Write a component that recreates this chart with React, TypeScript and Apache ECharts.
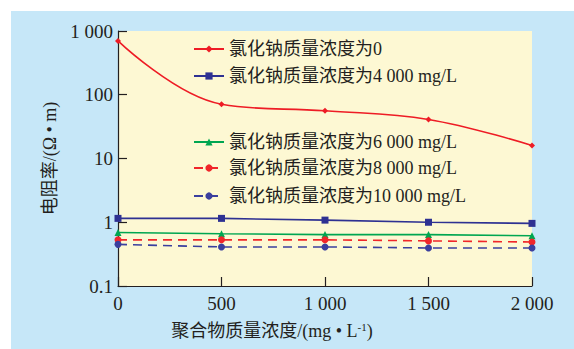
import React, { useEffect, useRef } from "react";
import * as echarts from "echarts";

const xValues = [0, 500, 1000, 1500, 2000];
const seriesNames = [
  "氯化钠质量浓度为0",
  "氯化钠质量浓度为4 000 mg/L",
  "氯化钠质量浓度为6 000 mg/L",
  "氯化钠质量浓度为8 000 mg/L",
  "氯化钠质量浓度为10 000 mg/L",
];
const nacl0 = [700, 71, 56, 41, 16];
const nacl4000 = [1.15, 1.15, 1.08, 1.0, 0.96];
const nacl6000 = [0.69, 0.66, 0.64, 0.64, 0.615];
const nacl8000 = [0.53, 0.53, 0.53, 0.51, 0.49];
const nacl10000 = [0.45, 0.41, 0.41, 0.395, 0.395];
const xTickLabels: Record<number, string> = { 0: "0", 500: "500", 1000: "1 000", 1500: "1 500", 2000: "2 000" };
const yTickLabels: Record<string, string> = { "0.1": "0.1", "1": "1", "10": "10", "100": "100", "1000": "1 000" };

const FONT = "'Liberation Serif', 'Noto Sans CJK SC', serif";
const INK = "#231f20";

export default function App() {
  const ref = useRef<HTMLDivElement>(null);
  useEffect(() => {
    if (!ref.current) return;
    const chart = echarts.init(ref.current, null, { renderer: "svg" });
    const values = [nacl0, nacl4000, nacl6000, nacl8000, nacl10000];
    const colors = ["#ee1c25", "#2e3192", "#00a651", "#f0262a", "#3a3f9e"];
    const symbols = ["diamond", "rect", "triangle", "circle", "circle"];
    const symbolSizes = [6, 7, 7, 7, 7];
    const dashed = [false, false, false, true, true];
    const legendCenters = [50, 77, 143, 169, 197];

    const series = values.map((vals, i) => ({
      name: seriesNames[i],
      type: "line",
      data: xValues.map((x, j) => [x, vals[j]]),
      smooth: i === 0 ? 0.4 : false,
      symbol: symbols[i],
      symbolSize: symbolSizes[i],
      showSymbol: true,
      color: colors[i],
      lineStyle: { color: colors[i], width: 1.6, type: dashed[i] ? [9, 6] : "solid" },
      itemStyle: { color: colors[i] },
    }));

    const legends = seriesNames.map((name, i) => ({
      data: [name],
      left: 193,
      top: legendCenters[i] - 10,
      padding: 0,
      itemWidth: 30,
      itemHeight: 9,
      textStyle: { fontFamily: FONT, fontSize: 18, color: INK },
      selectedMode: false,
    }));

    chart.setOption({
      animation: false,
      backgroundColor: "transparent",
      grid: {
        left: 118,
        top: 31,
        right: 42,
        bottom: 63,
        show: true,
        backgroundColor: "#fdf8d3",
        borderWidth: 0,
      },
      legend: legends,
      xAxis: {
        type: "value",
        min: 0,
        max: 2000,
        interval: 500,
        name: "聚合物质量浓度/(mg • L{sup|-1})",
        nameLocation: "middle",
        nameGap: 35,
        nameTextStyle: {
          fontFamily: FONT,
          fontSize: 18,
          color: INK,
          padding: [0, 106, 0, 0],
          rich: {
            sup: { fontFamily: FONT, fontSize: 11, color: INK, verticalAlign: "top", padding: [0, 0, 8, 0] },
          },
        },
        axisLine: { show: true, lineStyle: { color: INK, width: 1.2 } },
        axisTick: { show: true, inside: true, length: 9, lineStyle: { color: INK, width: 1.2 } },
        splitLine: { show: false },
        axisLabel: {
          fontFamily: FONT,
          fontSize: 19,
          color: INK,
          margin: 8,
          formatter: (v: number) => xTickLabels[v] ?? String(v),
        },
      },
      yAxis: {
        type: "log",
        logBase: 10,
        min: 0.1,
        max: 1000,
        name: "电阻率/(Ω • m)",
        nameLocation: "middle",
        nameGap: 57,
        nameTextStyle: { fontFamily: FONT, fontSize: 18, color: INK },
        axisLine: { show: true, lineStyle: { color: INK, width: 1.2 } },
        axisTick: { show: true, inside: true, length: 9, lineStyle: { color: INK, width: 1.2 } },
        minorTick: { show: false },
        splitLine: { show: false },
        axisLabel: {
          fontFamily: FONT,
          fontSize: 19,
          color: INK,
          margin: 5,
          formatter: (v: number) => {
            const k = String(Math.round(v * 10) / 10);
            return yTickLabels[k] ?? k;
          },
        },
      },
      series,
    });
    return () => chart.dispose();
  }, []);

  return (
    <div style={{ position: "fixed", left: 0, top: 0, width: 574, height: 349, background: "#ffffff" }}>
      <div style={{ position: "absolute", left: 11, top: 11, right: 0, bottom: 0, background: "#c6e7f8" }} />
      <div ref={ref} style={{ position: "absolute", left: 0, top: 0, width: 574, height: 349 }} />
    </div>
  );
}
